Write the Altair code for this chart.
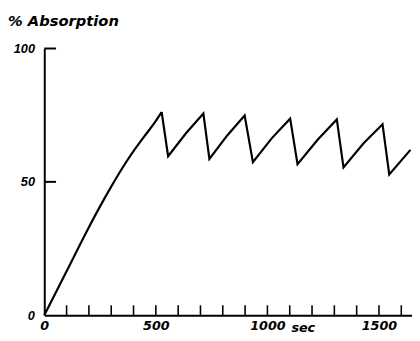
import altair as alt
import pandas as pd

# Curve (time in sec, % absorption)
# first (smooth) rise
rise_t = [0, 100, 200, 250, 300, 350, 400, 450, 500, 526]
rise_a = [0, 16.5, 33, 40.8, 48.2, 55.2, 61.5, 67.2, 72.9, 76.2]
# sawtooth part (starts at the first peak)
saw_t = [526, 555, 635, 713,
         740, 820, 898,
         935, 1020, 1102,
         1135, 1225, 1311,
         1341, 1430, 1516,
         1546, 1641]
saw_a = [76.2, 59.6, 68.2, 75.6,
         58.6, 67.4, 74.9,
         57.4, 66.4, 73.7,
         56.6, 65.8, 73.4,
         55.4, 64.4, 71.6,
         52.8, 62]

x_label_values = [0, 500, 1000, 1500]
y_label_values = [0, 50, 100]
x_minor_ticks = [100, 200, 300, 400, 500, 600, 700, 800, 900, 1000,
                 1100, 1200, 1300, 1400, 1500, 1600]
y_ticks = [50, 100]

FONT_Y = "Liberation Sans"
FONT_X = "DejaVu Sans"
W, H = 375, 272
XMAX = 1648

rise = pd.DataFrame({"t": rise_t, "a": rise_a})
saw = pd.DataFrame({"t": saw_t, "a": saw_a})
xt = pd.DataFrame({"t": x_minor_ticks, "y0": [0] * len(x_minor_ticks), "y1": [3.7] * len(x_minor_ticks)})
yt = pd.DataFrame({"v": y_ticks})

xscale = alt.Scale(domain=[0, XMAX], nice=False, zero=False)
yscale = alt.Scale(domain=[0, 100], nice=False)

xaxis = alt.Axis(values=x_label_values, title=None, grid=False, ticks=False, format="d",
                 domain=True, domainColor="black", domainWidth=2,
                 labelFont=FONT_X, labelFontSize=13, labelFontWeight="bold",
                 labelFontStyle="italic", labelColor="black", labelPadding=5,
                 labelFlush=False, labelOverlap=False)
yaxis = alt.Axis(values=y_label_values, title=None, grid=False, ticks=False, format="d",
                 domain=True, domainColor="black", domainWidth=2,
                 labelFont=FONT_Y, labelFontSize=13, labelFontWeight="bold",
                 labelFontStyle="italic", labelColor="black", labelPadding=10,
                 labelFlush=False, labelOverlap=False)

line1 = alt.Chart(rise).mark_line(color="black", strokeWidth=2.2, interpolate="monotone").encode(
    x=alt.X("t:Q", scale=xscale, axis=xaxis),
    y=alt.Y("a:Q", scale=yscale, axis=yaxis),
)
line2 = alt.Chart(saw).mark_line(color="black", strokeWidth=2.2, strokeJoin="miter").encode(
    x=alt.X("t:Q", scale=xscale),
    y=alt.Y("a:Q", scale=yscale),
)

xticks = alt.Chart(xt).mark_rule(color="black", strokeWidth=1.6).encode(
    x=alt.X("t:Q", scale=xscale),
    y=alt.Y("y0:Q", scale=yscale),
    y2=alt.Y2("y1:Q"),
)
yticks = alt.Chart(yt).mark_rule(color="black", strokeWidth=2).encode(
    y=alt.Y("v:Q", scale=yscale),
    x=alt.value(0),
    x2=alt.value(12),
)

title = alt.Chart(pd.DataFrame({"s": ["% Absorption"]})).mark_text(
    font=FONT_X, fontSize=15, fontWeight="bold", fontStyle="italic",
    align="left", baseline="middle", color="black"
).encode(text="s:N", x=alt.value(-37), y=alt.value(-28))

sec = alt.Chart(pd.DataFrame({"s": ["sec"]})).mark_text(
    font=FONT_X, fontSize=13, fontWeight="bold", fontStyle="italic",
    align="left", baseline="middle", color="black"
).encode(text="s:N", x=alt.value(252), y=alt.value(285))

chart = alt.layer(line1, line2, xticks, title, sec, yticks).properties(
    width=W, height=H,
    autosize=alt.AutoSizeParams(type="none"),
    padding={"left": 37, "top": 38, "right": 0, "bottom": 23},
    background="white",
).configure_view(stroke=None)

chart.save("out.html", embed_options={"renderer": "svg", "actions": False})
